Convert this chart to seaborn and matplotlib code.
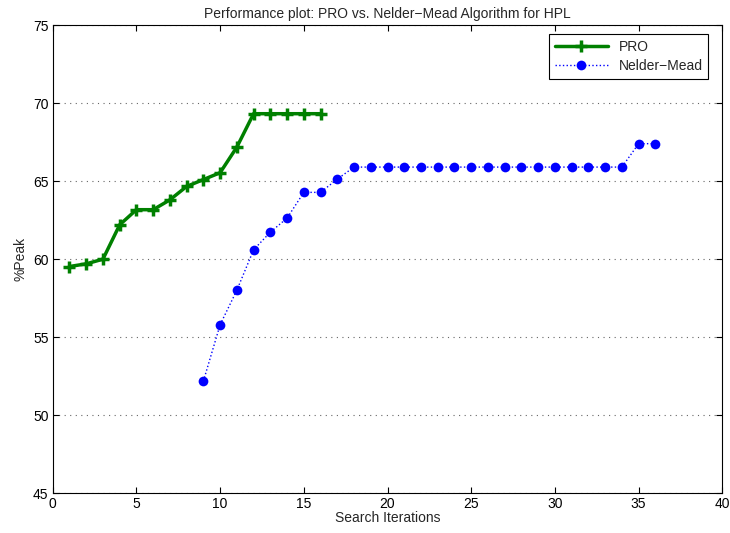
import matplotlib
matplotlib.use("Agg")
import matplotlib.pyplot as plt
import seaborn as sns
import pandas as pd
from matplotlib.ticker import MultipleLocator

pro_iter = list(range(1, 17))
pro_vals = [59.53, 59.7, 60.0, 62.2, 63.17, 63.17, 63.8, 64.66, 65.1, 65.54,
            67.18, 69.32, 69.32, 69.32, 69.32, 69.32]
nm_iter = list(range(9, 37))
nm_vals = [52.18, 55.8, 58.01, 60.6, 61.73, 62.63, 64.28, 64.28, 65.13] + \
          [65.9] * 17 + [67.4, 67.4]

sns.set_style("white")
plt.rcParams['font.family'] = ['Liberation Sans', 'DejaVu Sans']

fig = plt.figure(figsize=(7.3, 5.33), dpi=100)
ax = fig.add_axes([0.0722, 0.0745, 0.9173, 0.8785])

df_pro = pd.DataFrame({"it": pro_iter, "v": pro_vals})
df_nm = pd.DataFrame({"it": nm_iter, "v": nm_vals})

green = (0, 0.5, 0)
blue = (0, 0, 1)
sns.lineplot(data=df_pro, x="it", y="v", ax=ax, color=green, linewidth=2.5,
             marker="+", markersize=9, markeredgewidth=2.5,
             markeredgecolor=green, markerfacecolor=green, label="PRO")
sns.lineplot(data=df_nm, x="it", y="v", ax=ax, color=blue, linewidth=1,
             linestyle=":", marker="o", markersize=7, markeredgewidth=0,
             markerfacecolor=blue, markeredgecolor=blue,
             label="Nelder\u2212Mead")

ax.set_xlim(0, 40)
ax.set_ylim(45, 75)
ax.xaxis.set_major_locator(MultipleLocator(5))
ax.yaxis.set_major_locator(MultipleLocator(5))
ax.yaxis.grid(True, linestyle=(0, (1, 4)), color="0.4", linewidth=0.8)
ax.xaxis.grid(False)
for s in ax.spines.values():
    s.set_color("black")
    s.set_linewidth(0.8)
ax.tick_params(direction="in", length=4, width=0.8, labelsize=10, colors="black",
               top=True, right=True, bottom=True, left=True, pad=3)
ax.set_xlabel("Search Iterations", fontsize=10, labelpad=0)
ax.set_ylabel("%Peak", fontsize=10, labelpad=4)
ax.set_title("Performance plot: PRO vs. Nelder\u2212Mead Algorithm for HPL", fontsize=10, pad=5)

leg = ax.legend(loc="upper right", fontsize=10, frameon=True, fancybox=False,
                edgecolor="black", framealpha=1, borderpad=0.4, handlelength=3.8,
                labelspacing=0.4, borderaxespad=0, bbox_to_anchor=(0.979, 0.981))
leg.get_frame().set_linewidth(0.8)

fig.savefig("out.png", dpi=100)
